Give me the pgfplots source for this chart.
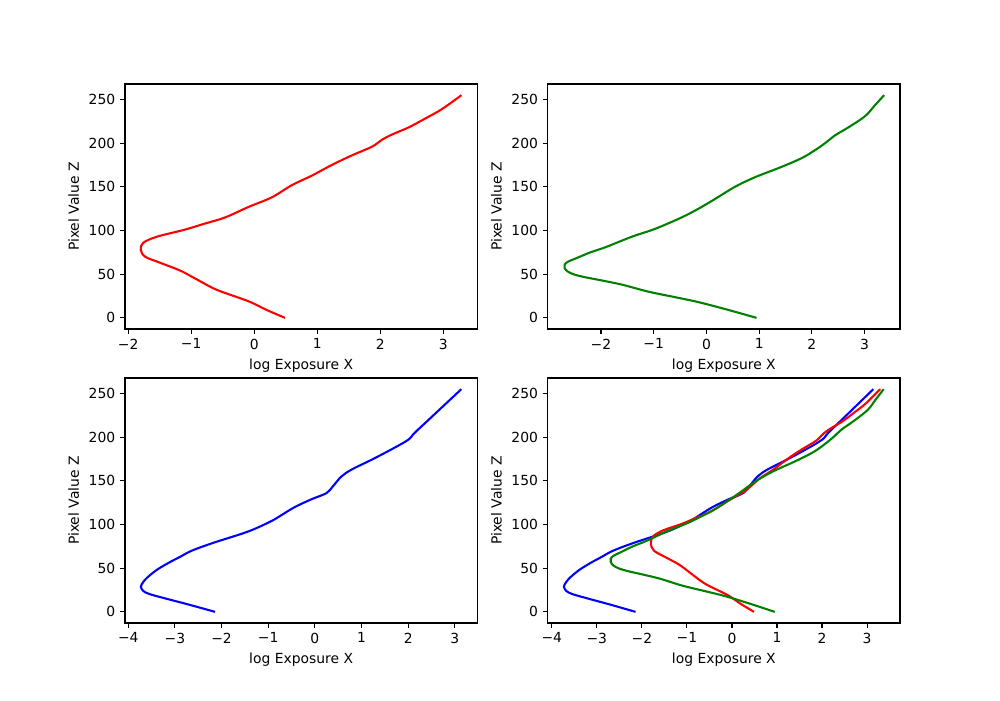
\documentclass[border=0pt]{standalone}
\usepackage{pgfplots}
\pgfplotsset{compat=1.18}
\usepackage{fontspec}
\setmainfont{DejaVu Sans}
\definecolor{mplgreen}{rgb}{0,0.5,0}
\pgfplotsset{
  sub/.style={
    scale only axis, width=253.6pt, height=176.4pt,
    ymin=-12.75, ymax=267.75,
    ytick={0,50,100,150,200,250},
    yticklabels={0,50,100,150,200,250},
    tick align=outside, tick pos=left,
    major tick length=3.5pt,
    axis line style={line width=0.8pt},
    every tick/.style={line width=0.8pt, black},
    tick label style={font=\fontsize{10}{12}\selectfont},
    label style={font=\fontsize{10}{12}\selectfont},
    xlabel={log Exposure X}, ylabel={Pixel Value Z},
    anchor=south west,
  },
  crv/.style={line width=1.5pt, smooth, tension=0.55, no marks},
}
\begin{document}
\begin{tikzpicture}
\useasboundingbox (0pt,0pt) rectangle (720pt,504pt);
\pgfplotstableread{
x y
0.49 0
0.20 9
-0.09 19
-0.59 32
-0.91 44
-1.17 54
-1.49 63
-1.73 70
-1.80 78
-1.76 86
-1.54 93
-1.10 101
-0.78 108
-0.46 115
-0.09 127
0.28 138
0.60 152
0.92 163
1.23 175
1.55 186
1.87 196
2.03 204
2.19 210
2.45 218
2.71 228
2.98 239
3.29 255
}\red
\pgfplotstableread{
x y
0.95 0
0.42 9
-0.15 18
-0.62 24
-1.10 30
-1.60 38
-2.00 43
-2.30 46.5
-2.50 49.5
-2.63 53
-2.69 57
-2.69 61
-2.62 64.5
-2.48 68
-2.20 75
-1.91 81
-1.41 93
-0.97 102
-0.47 115
-0.15 125
0.16 136
0.54 150
0.92 161
1.43 173
1.81 183
2.06 192
2.25 200
2.44 209
2.69 218
3.01 231
3.19 243
3.37 255
}\green
\pgfplotstableread{
x y
-2.14 0
-2.68 8
-3.25 16
-3.55 20.5
-3.68 24
-3.73 29
-3.68 34
-3.60 39
-3.39 48
-3.14 56
-2.89 63
-2.64 70
-2.18 79
-1.43 92
-0.93 104
-0.71 111
-0.43 120
-0.07 129
0.25 136
0.39 144
0.57 155
0.79 163
1.21 174
1.64 186
2.00 197
2.14 205
2.50 223
2.86 241
3.14 255
}\blue
\begin{axis}[sub, at={(90pt,267.12pt)}, xmin=-2.05, xmax=3.54,
  xtick={-2,-1,0,1,2,3}, xticklabels={−2,−1,0,1,2,3}]
\addplot[crv, red] table {\red};
\end{axis}
\begin{axis}[sub, at={(394.36pt,267.12pt)}, xmin=-3.01, xmax=3.67,
  xtick={-2,-1,0,1,2,3}, xticklabels={−2,−1,0,1,2,3}]
\addplot[crv, mplgreen] table {\green};
\end{axis}
\begin{axis}[sub, at={(90pt,55.44pt)}, xmin=-4.07, xmax=3.48,
  xtick={-4,-3,-2,-1,0,1,2,3}, xticklabels={−4,−3,−2,−1,0,1,2,3}]
\addplot[crv, blue] table {\blue};
\end{axis}
\begin{axis}[sub, at={(394.36pt,55.44pt)}, xmin=-4.09, xmax=3.73,
  xtick={-4,-3,-2,-1,0,1,2,3}, xticklabels={−4,−3,−2,−1,0,1,2,3}]
\addplot[crv, blue] table {\blue};
\addplot[crv, red] table {\red};
\addplot[crv, mplgreen] table {\green};
\end{axis}
\end{tikzpicture}
\end{document}
